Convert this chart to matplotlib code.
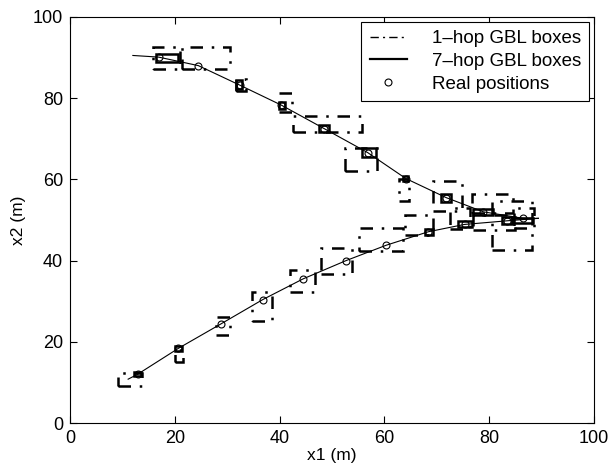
import numpy as np
import matplotlib
matplotlib.use("Agg")
import matplotlib.pyplot as plt
from matplotlib.patches import Rectangle

plt.rcParams['font.family'] = ['Liberation Sans', 'DejaVu Sans']

# real positions, upper path (x1, x2)
up_x = [16.9, 24.5, 32.4, 40.3, 48.5, 56.8, 64.1, 71.8, 78.9, 86.5]
up_y = [90.1, 88.0, 83.2, 78.3, 72.5, 66.6, 60.2, 55.5, 52.0, 50.4]
up_start = (12.0, 90.5)
# real positions, lower path
lo_x = [12.9, 20.7, 28.8, 36.8, 44.5, 52.7, 60.4, 68.4, 75.3, 83.5]
lo_y = [12.0, 18.4, 24.4, 30.4, 35.5, 40.0, 43.8, 47.1, 48.9, 49.8]
lo_start = (11.1, 10.8)
path_end = (89.4, 50.4)

# 1-hop GBL boxes: x_min, y_min, x_max, y_max
hop1_boxes = [
    (15.9, 87.1, 21.0, 92.5), (21.3, 87.1, 30.5, 92.5), (31.6, 81.8, 33.6, 84.6),
    (39.9, 76.5, 42.3, 81.2), (42.6, 71.7, 55.7, 75.5), (52.5, 62.0, 58.6, 67.8),
    (62.8, 54.6, 64.7, 60.0), (69.2, 52.2, 74.8, 59.6), (76.7, 51.8, 84.6, 56.3),
    (80.5, 42.7, 88.1, 54.6), (84.8, 48.0, 88.6, 53.0),
    (9.2, 9.1, 13.7, 12.4), (20.0, 15.1, 21.6, 18.0), (27.9, 21.7, 30.5, 26.2),
    (34.7, 25.0, 38.5, 32.3), (42.0, 32.2, 46.8, 37.6), (48.0, 36.8, 53.8, 43.1),
    (55.2, 42.3, 63.6, 47.9), (63.9, 46.4, 69.3, 51.1), (72.5, 47.7, 76.3, 53.0),
    (77.0, 47.6, 85.0, 51.2),
]
# 7-hop GBL boxes
hop7_boxes = [
    (16.5, 88.8, 20.7, 90.9), (31.7, 82.2, 32.8, 84.5), (39.8, 77.4, 41.0, 79.1),
    (47.6, 71.7, 49.5, 73.3), (55.7, 65.4, 58.5, 67.6), (63.6, 59.6, 64.6, 60.8),
    (70.9, 54.4, 72.7, 56.5), (77.0, 51.2, 80.8, 52.8), (82.4, 48.9, 84.3, 50.7),
    (84.3, 49.3, 88.4, 50.5),
    (12.2, 11.5, 13.6, 12.5), (20.0, 17.8, 21.4, 18.9), (67.7, 46.2, 69.3, 47.8),
    (74.1, 48.3, 76.7, 49.7),
]

fig = plt.figure(figsize=(6.16, 4.69), dpi=100)
ax = fig.add_axes([0.1136, 0.098, 0.8506, 0.866])

# trajectories
ux = [up_start[0]] + up_x + [path_end[0]]
uy = [up_start[1]] + up_y + [path_end[1]]
lx = [lo_start[0]] + lo_x + [path_end[0]]
ly = [lo_start[1]] + lo_y + [path_end[1]]
ax.plot(ux, uy, color='k', lw=0.8)
ax.plot(lx, ly, color='k', lw=0.8)

dashdot = (0, (5, 3.5, 1, 3.5))
for x0, y0, x1, y1 in hop1_boxes:
    ax.add_patch(Rectangle((x0, y0), x1 - x0, y1 - y0, fill=False,
                           edgecolor='k', lw=1.8, linestyle=dashdot))
for x0, y0, x1, y1 in hop7_boxes:
    ax.add_patch(Rectangle((x0, y0), x1 - x0, y1 - y0, fill=False,
                           edgecolor='k', lw=1.8))

ax.plot(up_x + lo_x, up_y + lo_y, 'o', mfc='none', mec='k', ms=5, mew=0.8)

# legend handles
h1, = ax.plot([], [], color='k', lw=1.0, linestyle=(0, (6, 3, 1.5, 3)))
h2, = ax.plot([], [], color='k', lw=1.6)
h3, = ax.plot([], [], 'o', mfc='none', mec='k', ms=5, mew=0.8)
leg = ax.legend([h1, h2, h3], ['1\u2013hop GBL boxes', '7\u2013hop GBL boxes', 'Real positions'],
                loc='upper right', fontsize=13.5, fancybox=False, framealpha=1,
                edgecolor='k', borderaxespad=0.25, handlelength=2.0,
                handletextpad=1.3, borderpad=0.45, labelspacing=0.3)
leg.get_frame().set_linewidth(0.8)

ax.set_xlim(0, 100)
ax.set_ylim(0, 100)
ax.set_xticks([0, 20, 40, 60, 80, 100])
ax.set_yticks([0, 20, 40, 60, 80, 100])
ax.tick_params(direction='in', top=True, right=True, labelsize=13, length=5, pad=5)
ax.set_xlabel('x1 (m)', fontsize=12.5, labelpad=1)
ax.set_ylabel('x2 (m)', fontsize=12.5, labelpad=5)
for s in ax.spines.values():
    s.set_linewidth(0.8)

fig.savefig('out.png', dpi=100)
